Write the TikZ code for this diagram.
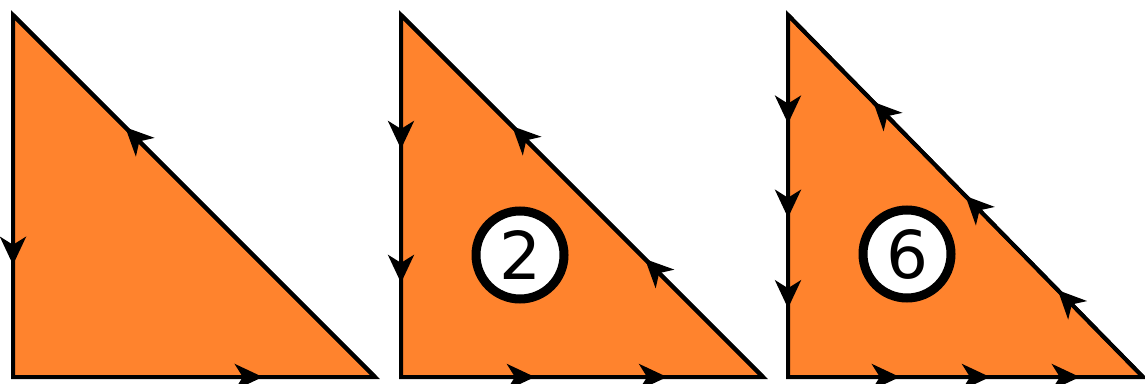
\documentclass[tikz,border=0pt]{standalone}
\usepackage{fontspec}
\setmainfont{DejaVu Sans}
\usetikzlibrary{arrows.meta, decorations.markings}
\definecolor{faceorange}{RGB}{255, 131, 45}
\tikzstyle{face} = [fill=faceorange, draw=black, line width=4pt, line join=miter]
\tikzstyle{edge} = [draw=black, line width=4pt]
\tikzstyle{badge} = [circle, draw=black, fill=white, line width=9pt, minimum size=88pt, inner sep=0pt, font=\fontsize{66}{66}\selectfont]
\tikzset{arr/.style={postaction={decorate, decoration={markings, mark=at position #1 with {\arrow{Stealth[length=28pt, width=26pt, inset=8pt]}}}}}}

\begin{document}
\begin{tikzpicture}[x=1pt, y=-1pt]
    \useasboundingbox (0,0) rectangle (1145,383);

    % Triangle with no label
    \coordinate (atop) at (13,15);
    \coordinate (aleft) at (13,377);
    \coordinate (aright) at (375,377);
    \path[face] (atop) -- (aleft) -- (aright) -- cycle;
    \draw[edge, arr=0.69] (atop) -- (aleft);
    \draw[edge, arr=0.69] (aleft) -- (aright);
    \draw[edge, arr=0.69] (aright) -- (atop);

    % Triangle with label 2
    \coordinate (btop) at (401,15);
    \coordinate (bleft) at (401,377);
    \coordinate (bright) at (763,377);
    \path[face] (btop) -- (bleft) -- (bright) -- cycle;
    \draw[edge, arr=0.37, arr=0.74] (btop) -- (bleft);
    \draw[edge, arr=0.37, arr=0.735] (bleft) -- (bright);
    \draw[edge, arr=0.326, arr=0.693] (bright) -- (btop);
    \node (two) [badge] at (520,255) {2};

    % Triangle with label 6
    \coordinate (ctop) at (788,15);
    \coordinate (cleft) at (788,377);
    \coordinate (cright) at (1143,377);
    \path[face] (ctop) -- (cleft) -- (cright) -- cycle;
    \draw[edge, arr=0.30, arr=0.56, arr=0.81] (ctop) -- (cleft);
    \draw[edge, arr=0.315, arr=0.569, arr=0.822] (cleft) -- (cright);
    \draw[edge, arr=0.24, arr=0.50, arr=0.76] (cright) -- (ctop);
    \node (six) [badge] at (907,254) {6};

\end{tikzpicture}
\end{document}
